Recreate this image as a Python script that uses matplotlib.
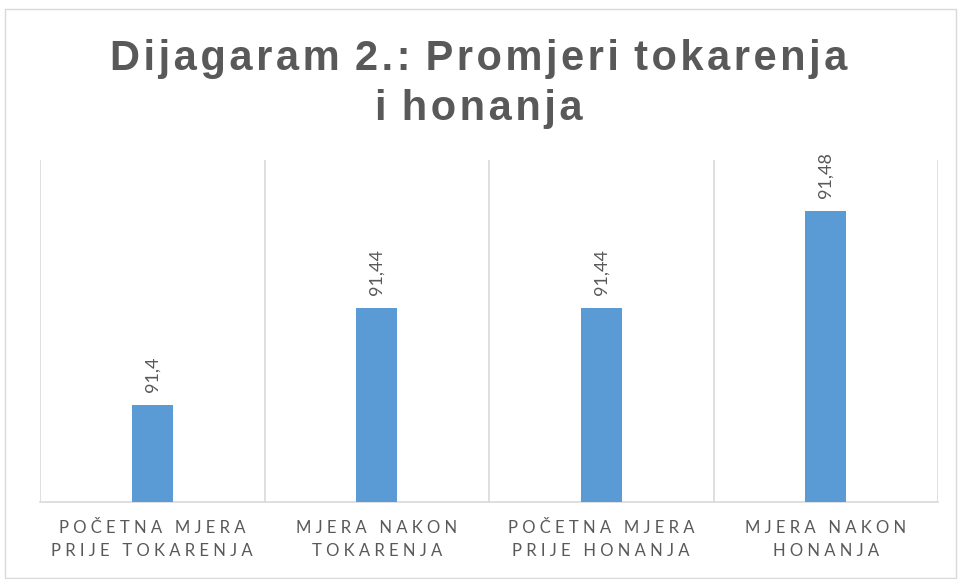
import matplotlib.pyplot as plt
from matplotlib.patches import Rectangle

categories = [["POČETNA MJERA", "PRIJE TOKARENJA"],
              ["MJERA NAKON", "TOKARENJA"],
              ["POČETNA MJERA", "PRIJE HONANJA"],
              ["MJERA NAKON", "HONANJA"]]
values = [91.40, 91.44, 91.44, 91.48]
value_labels = ["91,4", "91,44", "91,44", "91,48"]
title = "Dijagaram 2.: Promjeri tokarenja\ni honanja"

GRAY = "#595959"
GRID = "#d9d9d9"
BAR = "#5b9bd5"


def spaced(s, gap=" ", word="   "):
    # fake letter spacing
    return "\n".join(word.join(gap.join(w) for w in line.split(" ")) for line in s.split("\n"))


W, H = 958, 579
fig = plt.figure(figsize=(W / 100, H / 100), dpi=100)
fig.patches.append(Rectangle((5 / W, 1 / H), 951 / W, (H - 10) / H, transform=fig.transFigure,
                             fill=False, edgecolor=GRID, linewidth=1))

ax = fig.add_axes([40 / W, 1 - 502 / H, 898 / W, 342 / H])
x = range(len(values))
ax.bar(x, values, width=0.183, color=BAR, zorder=3)
ax.set_ylim(91.36, 91.501)
ax.set_xlim(-0.5, len(values) - 0.5)

for i, (v, lab) in enumerate(zip(values, value_labels)):
    ax.annotate(lab, (i, v), xytext=(0, 9), textcoords="offset points", rotation=90,
                ha="center", va="bottom", color=GRAY, fontsize=13, family=["Lato", "DejaVu Sans"])

ax.set_xticks(list(x))
ax.set_xticklabels([spaced("\n".join(c)) for c in categories], color=GRAY, fontsize=12,
                   family=["Lato", "DejaVu Sans"], linespacing=1.5)
ax.set_xticks([i - 0.5 for i in range(len(values) + 1)], minor=True)
ax.tick_params(axis="x", which="both", length=0, pad=13)
ax.set_yticks([])
ax.grid(True, which="minor", axis="x", color=GRID, linewidth=1.2, zorder=0)
for s in ["top", "left", "right"]:
    ax.spines[s].set_visible(False)
ax.spines["bottom"].set_color(GRID)
ax.spines["bottom"].set_linewidth(1.2)

fig.text(0.5, 1 - 84 / H, spaced(title, "\u200a", " \u200a"), ha="center", va="center", fontsize=30,
         fontweight="bold", color=GRAY, family=["Liberation Sans", "DejaVu Sans"], linespacing=1.3)

fig.savefig("out.png", dpi=100)
